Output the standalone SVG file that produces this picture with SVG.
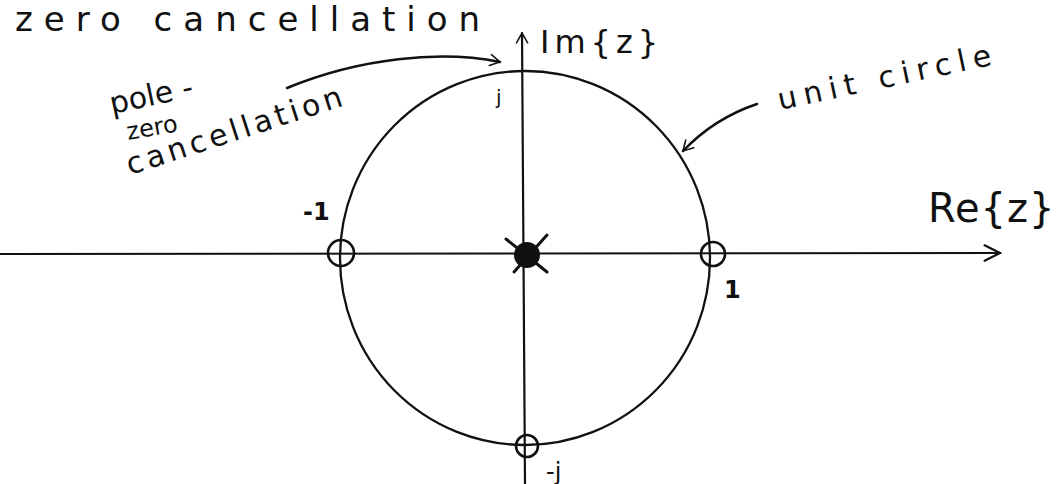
<svg xmlns="http://www.w3.org/2000/svg" width="1061" height="484" viewBox="0 0 1061 484">
<style>
.ink{fill:none;stroke:#111;stroke-linecap:round;stroke-linejoin:round}
.t{font-family:"DejaVu Sans","Liberation Sans",sans-serif;fill:#111}
</style>
<defs>
<marker id="open" viewBox="0 0 20 20" refX="18" refY="10" markerWidth="14" markerHeight="14" markerUnits="userSpaceOnUse" orient="auto">
<path d="M4,2 L18,10 L4,18" fill="none" stroke="#111" stroke-width="2.2" stroke-linecap="round"/>
</marker>
<marker id="open2" viewBox="0 0 20 20" refX="18" refY="10" markerWidth="22" markerHeight="22" markerUnits="userSpaceOnUse" orient="auto">
<path d="M4,3 L18,10 L4,17" fill="none" stroke="#111" stroke-width="2" stroke-linecap="round"/>
</marker>
</defs>
<rect width="1061" height="484" fill="#fff"/>

<g id="title">
<text class="t" x="15" y="31" font-size="34" letter-spacing="11">zero cancellation</text>
</g>

<g id="connectors">
<line id="re-axis" class="ink" x1="0" y1="254" x2="1000" y2="253" stroke-width="2.2" marker-end="url(#open2)"/>
<line id="im-axis" class="ink" x1="525" y1="484" x2="522" y2="33" stroke-width="2.2" marker-end="url(#open)"/>
<path id="pz-arrow" class="ink" d="M287,88 C360,58 440,50 500,62" stroke-width="2.5" marker-end="url(#open)"/>
<path id="uc-arrow" class="ink" d="M757,104 C730,113 705,128 683,151" stroke-width="2.5" marker-end="url(#open)"/>
</g>

<g id="unit-circle">
<ellipse class="ink" cx="525" cy="258" rx="185" ry="187" stroke-width="2.3"/>
</g>

<g id="zero-left">
<circle class="ink" cx="341" cy="253" r="13" stroke-width="2.6"/>
</g>
<g id="zero-right">
<circle class="ink" cx="713" cy="254" r="12" stroke-width="2.6"/>
</g>
<g id="zero-bottom">
<circle class="ink" cx="527" cy="446" r="11" stroke-width="2.6"/>
</g>
<g id="pole-origin">
<circle cx="527" cy="255" r="13" fill="#111"/>
<line class="ink" x1="506" y1="239" x2="547" y2="272" stroke-width="3"/>
<line class="ink" x1="514" y1="272" x2="547" y2="235" stroke-width="3"/>
</g>

<g id="labels">
<text class="t" x="540" y="53" font-size="32" letter-spacing="5">Im{z}</text>
<text class="t" x="496" y="104" font-size="20">j</text>
<text class="t" x="303" y="220" font-size="24" font-weight="bold">-1</text>
<text class="t" x="724" y="298" font-size="24" font-weight="bold">1</text>
<text class="t" x="546" y="480" font-size="24">-j</text>
<text class="t" x="928" y="222" font-size="40" letter-spacing="1">Re{z}</text>
<text class="t" x="112" y="114" font-size="30" transform="rotate(-12 112 114)">pole -</text>
<text class="t" x="128" y="140" font-size="24" transform="rotate(-10 128 140)">zero</text>
<text class="t" x="130" y="175" font-size="30" letter-spacing="4" transform="rotate(-18 130 175)">cancellation</text>
<text class="t" x="780" y="110" font-size="30" letter-spacing="7" transform="rotate(-12 780 110)">unit circle</text>
</g>
</svg>
